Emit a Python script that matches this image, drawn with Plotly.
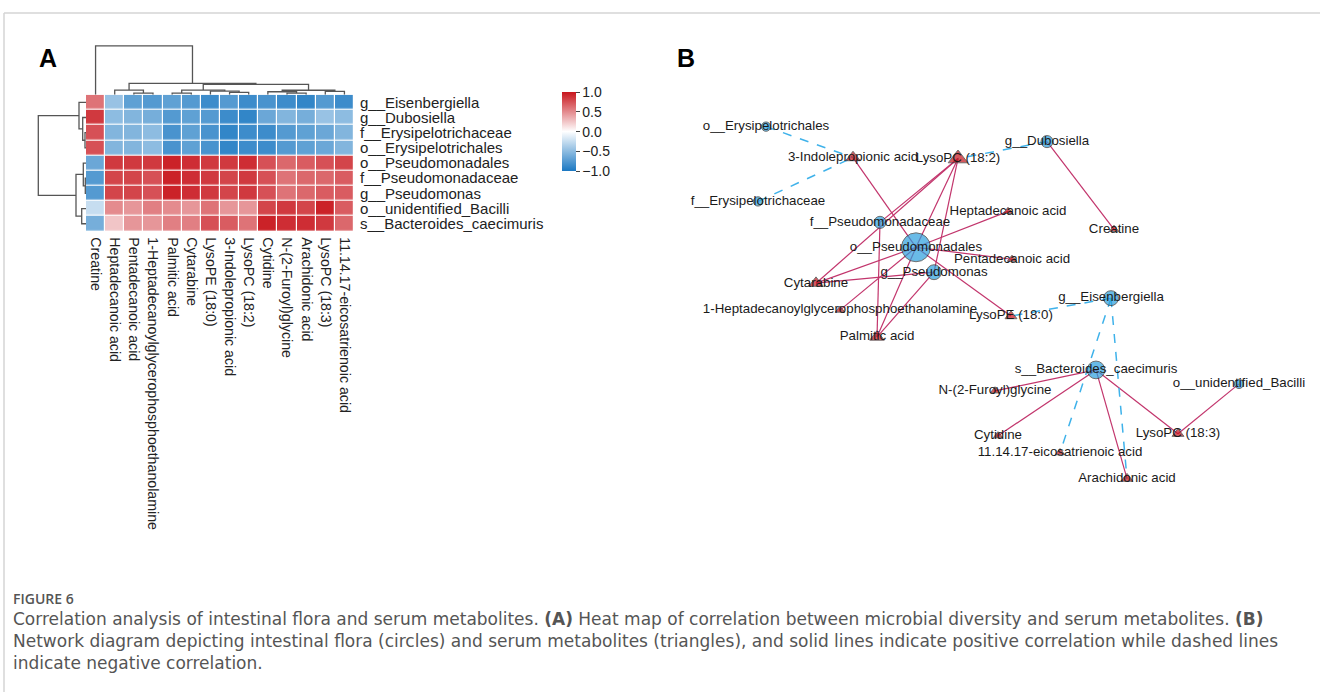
import plotly.graph_objects as go

W, H = 1320, 693

# ---------------- Panel A data ----------------
metabolites = ["Creatine", "Heptadecanoic acid", "Pentadecanoic acid",
               "1-Heptadecanoylglycerophosphoethanolamine", "Palmitic acid", "Cytarabine",
               "LysoPE (18:0)", "3-Indolepropionic acid", "LysoPC (18:2)", "Cytidine",
               "N-(2-Furoyl)glycine", "Arachidonic acid", "LysoPC (18:3)",
               "11.14.17-eicosatrienoic acid"]
taxa = ["g__Eisenbergiella", "g__Dubosiella", "f__Erysipelotrichaceae", "o__Erysipelotrichales",
        "o__Pseudomonadales", "f__Pseudomonadaceae", "g__Pseudomonas",
        "o__unidentified_Bacilli", "s__Bacteroides_caecimuris"]

r_eisenbergiella = [0.60, -0.45, -0.70, -0.75, -0.70, -0.75, -0.85, -0.75, -0.85, -0.80, -0.85, -0.90, -0.75, -0.85]
r_dubosiella = [0.85, -0.50, -0.55, -0.60, -0.75, -0.70, -0.75, -0.85, -0.90, -0.65, -0.55, -0.60, -0.45, -0.50]
r_erysipelotrichaceae = [0.75, -0.55, -0.55, -0.50, -0.80, -0.70, -0.80, -0.90, -0.85, -0.85, -0.75, -0.70, -0.65, -0.55]
r_erysipelotrichales = [0.75, -0.55, -0.55, -0.50, -0.80, -0.70, -0.80, -0.90, -0.85, -0.85, -0.75, -0.70, -0.65, -0.55]
r_pseudomonadales = [-0.65, 0.85, 0.85, 0.85, 0.95, 0.90, 0.85, 0.85, 0.90, 0.75, 0.65, 0.70, 0.75, 0.80]
r_pseudomonadaceae = [-0.75, 0.80, 0.80, 0.75, 0.95, 0.90, 0.85, 0.80, 0.85, 0.75, 0.60, 0.65, 0.65, 0.70]
r_pseudomonas = [-0.75, 0.80, 0.80, 0.75, 0.95, 0.90, 0.85, 0.80, 0.85, 0.75, 0.60, 0.65, 0.70, 0.70]
r_unidentified_bacilli = [-0.25, 0.50, 0.45, 0.55, 0.50, 0.45, 0.60, 0.45, 0.45, 0.80, 0.85, 0.80, 0.95, 0.70]
r_bacteroides = [-0.60, 0.25, 0.45, 0.45, 0.55, 0.55, 0.75, 0.70, 0.60, 0.95, 0.90, 0.90, 0.85, 0.65]

corr = [r_eisenbergiella, r_dubosiella, r_erysipelotrichaceae, r_erysipelotrichales,
        r_pseudomonadales, r_pseudomonadaceae, r_pseudomonas, r_unidentified_bacilli, r_bacteroides]

# hierarchical clustering merges (child_a, child_b, height); leaves 0..n-1, merge k -> n+k
col_merges = [(2, 3, 1.7), (1, 14, 4.7), (4, 5, 1.7), (7, 8, 2.3), (6, 17, 3.7),
              (16, 18, 4.7), (10, 11, 1.7), (9, 20, 3.0), (12, 13, 3.3), (21, 22, 4.5),
              (19, 23, 10.3), (15, 24, 11.3), (0, 25, 49.0)]
row_merges = [(2, 3, 1.0), (1, 9, 3.3), (0, 10, 7.0), (5, 6, 0.7), (4, 12, 2.7),
              (7, 8, 4.3), (13, 14, 10.0), (11, 15, 47.7)]

# ---------------- Panel B data ----------------
node_names = ["o__Erysipelotrichales", "3-Indolepropionic acid", "LysoPC (18:2)", "g__Dubosiella",
              "f__Erysipelotrichaceae", "Heptadecanoic acid", "Creatine", "f__Pseudomonadaceae",
              "o__Pseudomonadales", "Pentadecanoic acid", "g__Pseudomonas", "Cytarabine",
              "g__Eisenbergiella", "1-Heptadecanoylglycerophosphoethanolamine", "LysoPE (18:0)",
              "Palmitic acid", "s__Bacteroides_caecimuris", "o__unidentified_Bacilli",
              "N-(2-Furoyl)glycine", "Cytidine", "LysoPC (18:3)", "11.14.17-eicosatrienoic acid",
              "Arachidonic acid"]
node_kind = ["flora", "metabolite", "metabolite", "flora", "flora", "metabolite", "metabolite", "flora",
             "flora", "metabolite", "flora", "metabolite", "flora", "metabolite", "metabolite",
             "metabolite", "flora", "flora", "metabolite", "metabolite", "metabolite", "metabolite",
             "metabolite"]
layout_x = [86, 173, 278, 367, 78, 328, 434, 200, 236, 332, 254, 136, 431, 160, 331, 197, 416, 559,
            315, 318, 498, 380, 447]
layout_y = [374, 343, 342, 359, 299, 289, 271, 278, 253, 241, 228, 217, 202, 190, 184, 163, 130, 116,
            109, 64, 66, 47, 21]

edges_positive = [("g__Dubosiella", "Creatine"),
                  ("3-Indolepropionic acid", "o__Pseudomonadales"),
                  ("LysoPC (18:2)", "Cytarabine"),
                  ("LysoPC (18:2)", "o__Pseudomonadales"),
                  ("LysoPC (18:2)", "g__Pseudomonas"),
                  ("LysoPC (18:2)", "f__Pseudomonadaceae"),
                  ("Heptadecanoic acid", "o__Pseudomonadales"),
                  ("Pentadecanoic acid", "o__Pseudomonadales"),
                  ("LysoPE (18:0)", "o__Pseudomonadales"),
                  ("Cytarabine", "o__Pseudomonadales"),
                  ("Cytarabine", "g__Pseudomonas"),
                  ("1-Heptadecanoylglycerophosphoethanolamine", "o__Pseudomonadales"),
                  ("Palmitic acid", "f__Pseudomonadaceae"),
                  ("Palmitic acid", "o__Pseudomonadales"),
                  ("Palmitic acid", "g__Pseudomonas"),
                  ("s__Bacteroides_caecimuris", "N-(2-Furoyl)glycine"),
                  ("s__Bacteroides_caecimuris", "Cytidine"),
                  ("s__Bacteroides_caecimuris", "Arachidonic acid"),
                  ("s__Bacteroides_caecimuris", "LysoPC (18:3)"),
                  ("o__unidentified_Bacilli", "LysoPC (18:3)")]
edges_negative = [("o__Erysipelotrichales", "3-Indolepropionic acid"),
                  ("f__Erysipelotrichaceae", "3-Indolepropionic acid"),
                  ("g__Dubosiella", "LysoPC (18:2)"),
                  ("g__Eisenbergiella", "LysoPE (18:0)"),
                  ("g__Eisenbergiella", "11.14.17-eicosatrienoic acid"),
                  ("g__Eisenbergiella", "Arachidonic acid")]

caption_title = "FIGURE 6"
caption_lines = [
    "Correlation analysis of intestinal flora and serum metabolites. <b>(A)</b> Heat map of correlation between microbial diversity and serum metabolites. <b>(B)</b>",
    "Network diagram depicting intestinal flora (circles) and serum metabolites (triangles), and solid lines indicate positive correlation while dashed lines",
    "indicate negative correlation.",
]

# ---------------- figure ----------------
FONT = "Liberation Sans, Arial, sans-serif"
CAP_FONT = "DejaVu Sans, sans-serif"
fig = go.Figure()

fig.add_trace(go.Heatmap(
    z=corr, x=list(range(len(metabolites))), y=list(range(len(taxa))),
    xaxis="x", yaxis="y", zmin=-1, zmax=1, xgap=1.2, ygap=1.2,
    colorscale=[[0, "#1b78c2"], [0.5, "#ffffff"], [1, "#c8161d"]],
    hoverinfo="skip",
    colorbar=dict(x=562 / W, xanchor="left", y=1 - 131 / H, yanchor="middle",
                  lenmode="pixels", len=79, thicknessmode="pixels", thickness=14,
                  xpad=0, ypad=0, outlinewidth=0,
                  tickvals=[-1, -0.5, 0, 0.5, 1], tickformat=".1f",
                  ticks="outside", ticklen=4, tickcolor="#444",
                  tickfont=dict(size=14, family=FONT, color="#222")),
))


def dendro_segments(merges, n):
    pos = {i: float(i) for i in range(n)}
    hgt = {i: 0.0 for i in range(n)}
    xs, ys = [], []
    for k, (a, b, h) in enumerate(merges):
        xa, xb = pos[a], pos[b]
        xs += [xa, xa, xb, xb, None]
        ys += [hgt[a], h, h, hgt[b], None]
        pos[n + k] = (xa + xb) / 2
        hgt[n + k] = h
    return xs, ys


cx, ch = dendro_segments(col_merges, len(metabolites))
fig.add_trace(go.Scatter(x=cx, y=ch, xaxis="x2", yaxis="y2", mode="lines",
                         line=dict(color="#555555", width=1.3), hoverinfo="skip", showlegend=False))
rx, rh = dendro_segments(row_merges, len(taxa))
fig.add_trace(go.Scatter(x=rh, y=rx, xaxis="x3", yaxis="y3", mode="lines",
                         line=dict(color="#555555", width=1.3), hoverinfo="skip", showlegend=False))

# network
idx = {n: i for i, n in enumerate(node_names)}
degree = [0] * len(node_names)
for a, b in edges_positive + edges_negative:
    degree[idx[a]] += 1
    degree[idx[b]] += 1


def edge_xy(edges):
    xs, ys = [], []
    for a, b in edges:
        xs += [layout_x[idx[a]], layout_x[idx[b]], None]
        ys += [layout_y[idx[a]], layout_y[idx[b]], None]
    return xs, ys


px_, py_ = edge_xy(edges_positive)
fig.add_trace(go.Scatter(x=px_, y=py_, xaxis="x4", yaxis="y4", mode="lines",
                         line=dict(color="#c2356c", width=1.2), hoverinfo="skip", showlegend=False))
nx_, ny_ = edge_xy(edges_negative)
fig.add_trace(go.Scatter(x=nx_, y=ny_, xaxis="x4", yaxis="y4", mode="lines",
                         line=dict(color="#3fb2ea", width=1.5, dash="dash"), hoverinfo="skip",
                         showlegend=False))

for kind, symbol, color in [("flora", "circle", "#2b9fdd"), ("metabolite", "triangle-up", "#c5121b")]:
    sel = [i for i in range(len(node_names)) if node_kind[i] == kind]
    if kind == "flora":
        sizes = [6.5 + 2.8 * degree[i] for i in sel]
    else:
        sizes = [6 + 2.2 * degree[i] for i in sel]
    fig.add_trace(go.Scatter(
        x=[layout_x[i] for i in sel], y=[layout_y[i] for i in sel], xaxis="x4", yaxis="y4",
        mode="markers", marker=dict(symbol=symbol, size=sizes, color=color,
                                    line=dict(color="#333333", width=1)),
        hoverinfo="skip", showlegend=False))

fig.add_trace(go.Scatter(x=layout_x, y=layout_y, xaxis="x4", yaxis="y4", mode="text",
                         text=node_names, textposition="middle center",
                         textfont=dict(size=13.3, family=FONT, color="#1a1a1a"),
                         hoverinfo="skip", showlegend=False))

hm_x = [86 / W, 354 / W]
hm_y = [1 - 231 / H, 1 - 94 / H]
fig.update_layout(
    width=W, height=H, margin=dict(l=0, r=0, t=0, b=0),
    paper_bgcolor="white", plot_bgcolor="white", showlegend=False,
    font=dict(family=FONT, color="#222"),
    xaxis=dict(domain=hm_x, range=[-0.5, 13.5], anchor="y", tickmode="array",
               tickvals=list(range(len(metabolites))), ticktext=metabolites, tickangle=90,
               showgrid=False, zeroline=False, showline=False, ticks="", ticklabelstandoff=5,
               tickfont=dict(size=14.2, family=FONT, color="#222"), fixedrange=True),
    yaxis=dict(domain=hm_y, range=[8.5, -0.5], anchor="x", side="right", tickmode="array",
               tickvals=list(range(len(taxa))), ticktext=taxa, ticklabelstandoff=5,
               showgrid=False, zeroline=False, showline=False, ticks="",
               tickfont=dict(size=15, family=FONT, color="#222"), fixedrange=True),
    xaxis2=dict(domain=hm_x, range=[-0.5, 13.5], anchor="y2", visible=False),
    yaxis2=dict(domain=[1 - 94 / H, 1 - 44 / H], range=[0, 50], anchor="x2", visible=False),
    xaxis3=dict(domain=[36 / W, 86 / W], range=[50, 0], anchor="y3", visible=False),
    yaxis3=dict(domain=hm_y, range=[8.5, -0.5], anchor="x3", visible=False),
    xaxis4=dict(domain=[680 / W, 1], range=[0, 640], anchor="y4", visible=False),
    yaxis4=dict(domain=[1 - 500 / H, 1 - 100 / H], range=[0, 400], anchor="x4", visible=False),
)

shapes = [
    dict(type="line", xref="paper", yref="paper", x0=4 / W, x1=1, y0=1 - 12 / H, y1=1 - 12 / H,
         line=dict(color="#d4d4d4", width=1.5)),
    dict(type="line", xref="paper", yref="paper", x0=4 / W, x1=4 / W, y0=0, y1=1 - 12 / H,
         line=dict(color="#d4d4d4", width=1.5)),
]
fig.update_layout(shapes=shapes)

ann = [
    dict(text="<b>A</b>", x=37 / W, y=1 - 57 / H, xanchor="left", yanchor="middle",
         font=dict(size=25, family=FONT, color="#000")),
    dict(text="<b>B</b>", x=675 / W, y=1 - 57 / H, xanchor="left", yanchor="middle",
         font=dict(size=25, family=FONT, color="#000")),
    dict(text=caption_title, x=11 / W, y=1 - 599 / H, xanchor="left", yanchor="middle",
         font=dict(size=14, family="Open Sans, sans-serif", color="#555", weight=600)),
]
for i, line in enumerate(caption_lines):
    ann.append(dict(text=line, x=11 / W, y=1 - (620 + 22 * i) / H, xanchor="left", yanchor="middle",
                    font=dict(size=17, family=CAP_FONT, color="#555")))
for a in ann:
    a.update(xref="paper", yref="paper", showarrow=False)
fig.update_layout(annotations=ann)

fig.write_html("out.html", config={"displayModeBar": False},
               post_script="document.body.style.margin='0';document.body.style.overflow='hidden';")
